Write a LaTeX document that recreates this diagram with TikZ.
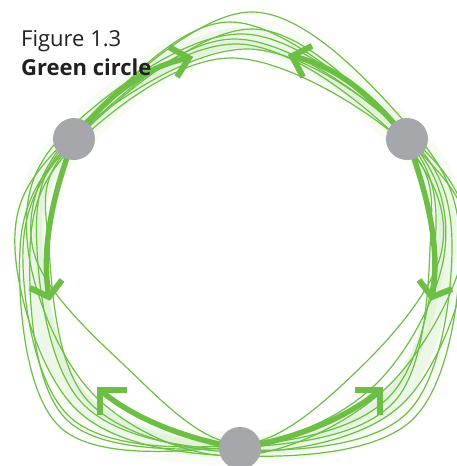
\documentclass[tikz,border=0pt]{standalone}
\usepackage{fontspec}
\setmainfont{Open Sans}
\usetikzlibrary{calc,backgrounds}
\definecolor{gline}{RGB}{108,190,68}
\definecolor{gdot}{RGB}{166,167,171}
\definecolor{txt}{RGB}{35,31,32}
\begin{document}
\begin{tikzpicture}[x=1pt,y=-1pt,
  dot/.style={circle,fill=gdot,minimum size=42pt,inner sep=0pt},
  thinc/.style={draw=gline,line width=1.2pt},
  thickc/.style={draw=gline,line width=5.5pt},
  chev/.style={draw=gline,line width=6pt,miter limit=10,line join=miter},
  glowc/.style={draw=gline,opacity=0.08,line width=#1},
  lbl/.style={anchor=base west,inner sep=0pt,text=txt,font=\fontsize{22}{26}\selectfont},
  loop/.style={smooth cycle,tension=0.6}
]
\useasboundingbox (0,0) rectangle (457,466);
\clip (0,0) rectangle (457,466);

\node[dot] (A) at (74,139) {};
\node[dot] (B) at (407,139) {};
\node[dot] (C) at (240,448) {};

\coordinate (t1) at (189,58);  \coordinate (a1) at (169,47);  \coordinate (b1) at (177,77);
\coordinate (t2) at (292,56);  \coordinate (a2) at (312,46);  \coordinate (b2) at (303,77);
\coordinate (t3) at (49,297);  \coordinate (a3) at (62,280);  \coordinate (b3) at (30,288);
\coordinate (t4) at (100,390); \coordinate (a4) at (127,390); \coordinate (b4) at (100,415);
\coordinate (t5) at (432,297); \coordinate (a5) at (419,280); \coordinate (b5) at (452,289);
\coordinate (t6) at (380,390); \coordinate (a6) at (355,390); \coordinate (b6) at (380,415);

\begin{scope}[on background layer]
  % glow
  \draw[glowc=34pt,opacity=0.05] plot[loop] coordinates {(74,138) (240,34) (407,138) (449,249) (396,404) (240,448) (80,410) (30,249)};
  \draw[glowc=20pt] plot[loop] coordinates {(74,138) (240,38) (407,138) (446,249) (392,400) (240,448) (84,405) (34,249)};
  \draw[glowc=8pt] plot[loop] coordinates {(74,138) (240,44) (407,138) (442,249) (388,396) (240,448) (88,400) (38,249)};
  % thin loops
  \draw[thinc] plot[loop] coordinates {(66,140) (250,12) (412,130) (460,249) (412,420) (238,456) (78,411) (15,249)};
  \draw[thinc] plot[loop] coordinates {(76,136) (230,22) (404,136) (435,249) (389,397) (242,446) (61,428) (20,249)};
  \draw[thinc] plot[loop] coordinates {(70,146) (252,29) (414,146) (468,249) (399,407) (236,452) (88,401) (49,249)};
  \draw[thinc] plot[loop] coordinates {(80,134) (234,39) (402,132) (445,249) (376,384) (244,444) (71,418) (23,249)};
  \draw[thinc] plot[loop] coordinates {(72,138) (246,49) (408,136) (452,249) (406,414) (240,450) (84,405) (37,249)};
  \draw[thinc] plot[loop] coordinates {(78,142) (232,58) (405,144) (430,249) (394,402) (246,447) (68,421) (30,249)};
  \draw[thinc] plot[loop] coordinates {(64,134) (244,34) (420,146) (464,249) (383,391) (234,456) (94,395) (28,249)};
  \draw[thinc] plot[loop] coordinates {(74,132) (238,44) (400,140) (442,249) (360,368) (240,444) (124,365) (33,249)};
  % thick arrows
  \draw[thickc] (A.center) .. controls (108,95) and (145,66) .. (t1);
  \draw[thickc] (B.center) .. controls (372,95) and (336,66) .. (t2);
  \draw[thickc] (A.center) .. controls (52,195) and (41,250) .. (t3);
  \draw[thickc] (C.center) .. controls (190,440) and (135,420) .. (t4);
  \draw[thickc] (B.center) .. controls (428,195) and (441,250) .. (t5);
  \draw[thickc] (C.center) .. controls (290,440) and (345,420) .. (t6);
  \draw[chev] (a1) -- (t1) -- (b1);
  \draw[chev] (a2) -- (t2) -- (b2);
  \draw[chev] (a3) -- (t3) -- (b3);
  \draw[chev] (a4) -- (t4) -- (b4);
  \draw[chev] (a5) -- (t5) -- (b5);
  \draw[chev] (a6) -- (t6) -- (b6);
\end{scope}

\node[lbl] (fig) at (21,46) {Figure 1.3};
\node[lbl,font=\fontsize{22}{26}\selectfont\bfseries] (ttl) at (21,75) {Green circle};
\end{tikzpicture}
\end{document}
